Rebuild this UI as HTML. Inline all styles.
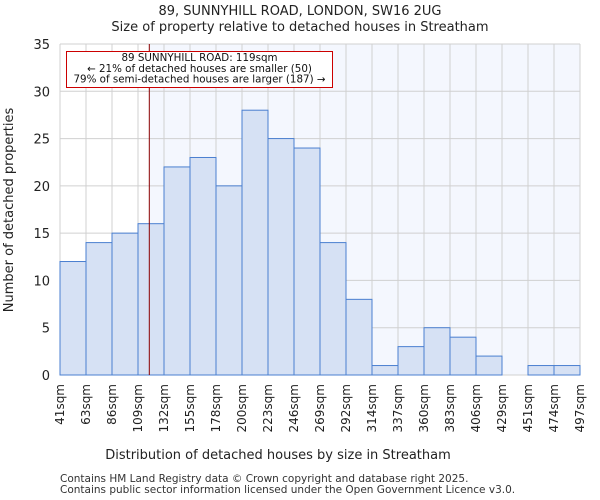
<!DOCTYPE html>
<html><head><meta charset="utf-8"><style>body{margin:0;background:#fff}svg{display:block;font-family:"DejaVu Sans","Liberation Sans",sans-serif}</style></head>
<body>
<svg id="c" width="600" height="500"></svg>
<script>
const binLabels=["41sqm","63sqm","86sqm","109sqm","132sqm","155sqm","178sqm","200sqm","223sqm","246sqm","269sqm","292sqm","314sqm","337sqm","360sqm","383sqm","406sqm","429sqm","451sqm","474sqm","497sqm"];
const counts=[12,14,15,16,22,23,20,28,25,24,14,8,1,3,5,4,2,0,1,1];
const yTicks=[0,5,10,15,20,25,30,35];
const propertySize=119;
const binEdges=[41,63,86,109,132,155,178,200,223,246,269,292,314,337,360,383,406,429,451,474,497];
const NS="http://www.w3.org/2000/svg";
const svg=document.getElementById('c');
const L=60,R=580,T=44,B=375,yMax=35;
const n=counts.length,bw=(R-L)/n;
const xi=i=>L+i*bw;
const y=v=>B-(v/yMax)*(B-T);
function xs(v){for(let i=0;i<binEdges.length-1;i++){if(v<=binEdges[i+1])return xi(i)+bw*(v-binEdges[i])/(binEdges[i+1]-binEdges[i]);}return R;}
function mk(t,a,p){const e=document.createElementNS(NS,t);for(const k in a)e.setAttribute(k,a[k]);(p||svg).appendChild(e);return e;}
const px=xs(propertySize);
let e;
e=mk('rect',{x:L,y:T,width:px-L,height:B-T,fill:'#ffffff'});


e=mk('rect',{x:px,y:T,width:R-px,height:B-T,fill:'#f4f7fe'});


for(let i=0;i<=n;i++){e=mk('line',{x1:xi(i),x2:xi(i),y1:T,y2:B,stroke:'#d0d0d0','stroke-width':1});

}
yTicks.forEach(v=>{e=mk('line',{x1:L,x2:R,y1:y(v),y2:y(v),stroke:'#d0d0d0','stroke-width':1});


e=mk('text',{x:L-10,y:y(v)+5,'text-anchor':'end','font-size':13,fill:'#222'});e.textContent=v;

});
counts.forEach((c,i)=>{if(c<=0)return;e=mk('rect',{x:xi(i),y:y(c),width:bw,height:B-y(c),fill:'#d6e1f4',stroke:'#4a7fd0','stroke-width':1});

});
binLabels.forEach((l,i)=>{const x=xi(i)+4;e=mk('text',{x:0,y:0,transform:`translate(${x},384) rotate(-90)`,'text-anchor':'end','font-size':12,fill:'#222'});e.textContent=l;

});
e=mk('line',{x1:px,x2:px,y1:T,y2:B,stroke:'#8b0000','stroke-width':1});


const g=mk('g',{});


mk('rect',{x:66.5,y:51.5,width:266,height:36,fill:'#fff',stroke:'#cc0000','stroke-width':1},g);
[["89 SUNNYHILL ROAD: 119sqm",61],["← 21% of detached houses are smaller (50)",72],["79% of semi-detached houses are larger (187) →",82.5]].forEach(([t,yy])=>{const tx=mk('text',{x:199.5,y:yy,'text-anchor':'middle','font-size':10.3,fill:'#111'},g);tx.textContent=t;});
e=mk('text',{x:300,y:15,'text-anchor':'middle','font-size':13,fill:'#222'});e.textContent="89, SUNNYHILL ROAD, LONDON, SW16 2UG";


e=mk('text',{x:300,y:31,'text-anchor':'middle','font-size':13,fill:'#222'});e.textContent="Size of property relative to detached houses in Streatham";


e=mk('text',{x:278,y:459,'text-anchor':'middle','font-size':13,fill:'#222'});e.textContent="Distribution of detached houses by size in Streatham";


e=mk('text',{x:0,y:0,transform:'translate(13,210) rotate(-90)','text-anchor':'middle','font-size':13,fill:'#222'});e.textContent="Number of detached properties";


e=mk('text',{x:60,y:482,'font-size':10.5,fill:'#333'});e.textContent="Contains HM Land Registry data © Crown copyright and database right 2025.";


e=mk('text',{x:60,y:493,'font-size':10.5,fill:'#333'});e.textContent="Contains public sector information licensed under the Open Government Licence v3.0.";


</script>
</body></html>
